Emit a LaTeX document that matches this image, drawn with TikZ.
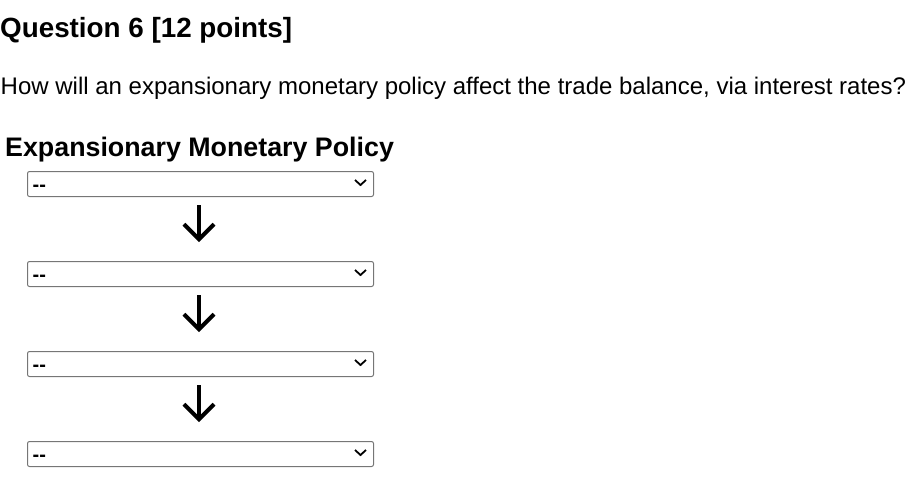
\documentclass[tikz,border=0pt]{standalone}
\usepackage{fontspec}
\setmainfont{Liberation Sans}
\usetikzlibrary{arrows.meta}
\definecolor{boxgray}{HTML}{767676}
\begin{document}
\begin{tikzpicture}[x=1pt,y=-1pt,
  selbox/.style={draw=boxgray, line width=1pt, rounded corners=2pt, minimum width=346pt, minimum height=25pt, inner sep=0pt, anchor=north west},
  seltext/.style={font=\bfseries\fontsize{20}{20}\selectfont, anchor=base west, inner sep=0pt},
  chev/.style={line width=1.8pt, line cap=butt, line join=miter},
  flow/.style={line width=4pt, -{Straight Barb[length=15pt, width=30pt]}, shorten <=8pt, shorten >=19pt}
]
\useasboundingbox (0,0) rectangle (913,477);
\node[anchor=base west, inner sep=0pt, font=\bfseries\fontsize{27.8}{30}\selectfont] (title) at (0,37) {Question 6 [12 points]};
\node[anchor=base west, inner sep=0pt, font=\fontsize{24}{26}\selectfont] (q) at (0.5,94) {How will an expansionary monetary policy affect the trade balance, via interest rates?};
\node[anchor=base west, inner sep=0pt, font=\bfseries\fontsize{26.8}{30}\selectfont] (head) at (5,156) {Expansionary Monetary Policy};
\foreach \i/\y in {1/171,2/261,3/351,4/441}{
  \node[selbox] (b\i) at (27,\y) {};
  \node[seltext] (t\i) at (32.5,\y+20) {-{}-};
  \coordinate (c\i) at (360.5,\y+14);
  \draw[chev] (355,\y+9) -- (c\i) -- (366,\y+9);
}
\coordinate (ax) at (199,0);
\draw[flow] (b1.south -| ax) -- (b2.north -| ax);
\draw[flow] (b2.south -| ax) -- (b3.north -| ax);
\draw[flow] (b3.south -| ax) -- (b4.north -| ax);
\end{tikzpicture}
\end{document}
